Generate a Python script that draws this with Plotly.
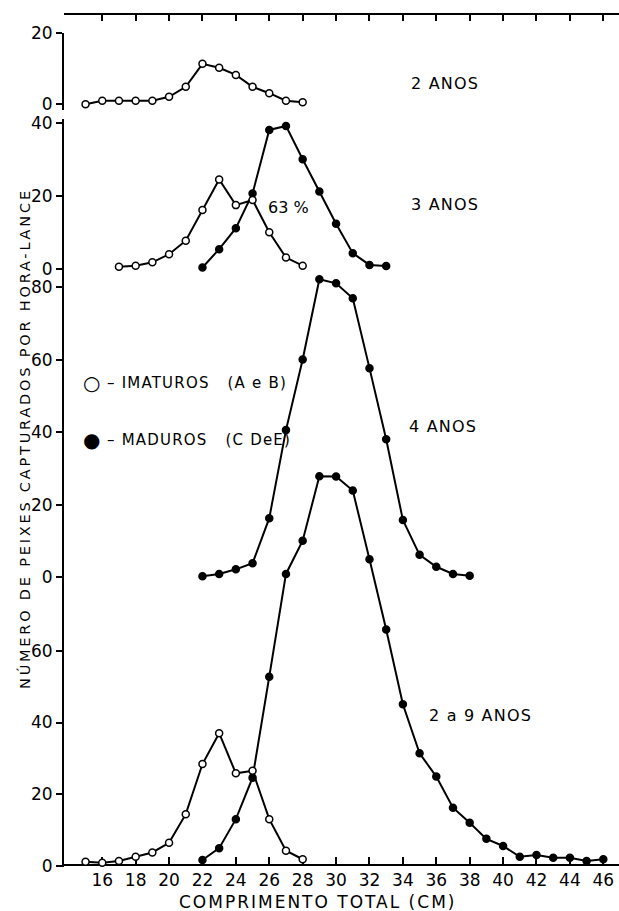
import plotly.graph_objects as go

W, H = 619, 911

# ---------------- data ----------------
# Panel 1: 2 ANOS (imaturos only)
p1_imat_x = list(range(15, 29))
p1_imat_y = [0, 1.0, 1.0, 1.0, 1.0, 2.1, 4.9, 11.3, 10.2, 8.2, 4.9, 3.1, 1.0, 0.6]

# Panel 2: 3 ANOS
p2_imat_x = list(range(17, 29))
p2_imat_y = [0.7, 1.0, 1.9, 4.1, 7.8, 16.2, 24.5, 17.5, 18.9, 10.1, 3.2, 1.0]
p2_mad_x = list(range(22, 34))
p2_mad_y = [0.5, 5.5, 11.2, 20.7, 38.0, 39.1, 30.0, 21.2, 12.4, 4.4, 1.2, 0.9]

# Panel 3: 4 ANOS (maduros only)
p3_mad_x = list(range(22, 39))
p3_mad_y = [0.3, 0.9, 2.2, 3.9, 16.3, 40.6, 60.1, 82.2, 81.1, 77.0, 57.7,
            38.1, 15.8, 6.2, 2.9, 0.9, 0.4]

# Panel 4: 2 a 9 ANOS
p4_imat_x = list(range(15, 29))
p4_imat_y = [1.1, 0.8, 1.3, 2.5, 3.7, 6.4, 14.4, 28.4, 37.0, 25.8, 26.5, 13.0, 4.2, 1.8]
p4_mad_x = list(range(22, 47))
p4_mad_y = [1.6, 4.9, 13.0, 24.6, 52.8, 81.5, 90.8, 108.8, 108.7, 104.8, 85.6,
            66.0, 45.1, 31.4, 24.9, 16.2, 12.0, 7.5, 5.5, 2.5, 3.0, 2.2, 2.2, 1.3, 1.8]

x_ticks = list(range(16, 47, 2))
p1_ticks = [0, 20]
p2_ticks = [0, 20, 40]
p3_ticks = [0, 20, 40, 60, 80]
p4_ticks = [0, 20, 40, 60]

panel_labels = ["2 ANOS", "3 ANOS", "4 ANOS", "2 a 9 ANOS"]

# ---------------- layout helpers ----------------
def px(xp):
    return xp / W

def py(yp):
    return 1 - yp / H

def ydomain(zero_pix, scale, r0, r1):
    bottom = zero_pix - r0 * scale
    top = zero_pix - r1 * scale
    return [py(bottom), py(top)]

FONT = "DejaVu Sans"
BLACK = "black"

fig = go.Figure()

def line_trace(x, y, yaxis, filled):
    marker = dict(size=7, color=BLACK if filled else "white",
                  line=dict(color=BLACK, width=1.5), symbol="circle")
    return go.Scatter(x=x, y=y, xaxis="x", yaxis=yaxis, mode="lines+markers",
                      line=dict(color=BLACK, width=2), marker=marker,
                      showlegend=False, cliponaxis=False, hoverinfo="x+y")

fig.add_trace(line_trace(p1_imat_x, p1_imat_y, "y", False))
fig.add_trace(line_trace(p2_mad_x, p2_mad_y, "y2", True))
fig.add_trace(line_trace(p2_imat_x, p2_imat_y, "y2", False))
fig.add_trace(line_trace(p3_mad_x, p3_mad_y, "y3", True))
fig.add_trace(line_trace(p4_mad_x, p4_mad_y, "y4", True))
fig.add_trace(line_trace(p4_imat_x, p4_imat_y, "y4", False))
# invisible trace to carry the top axis
fig.add_trace(go.Scatter(x=[None], y=[None], xaxis="x2", yaxis="y",
                         showlegend=False, hoverinfo="skip"))

xrange_ = [13.71, 46.94]

yax_common = dict(showgrid=False, zeroline=False, showline=True, linecolor=BLACK,
                  linewidth=2, ticks="outside", ticklen=6, tickwidth=2,
                  tickcolor=BLACK, anchor="x", automargin=False,
                  tickfont=dict(family=FONT, size=17, color=BLACK),
                  tickmode="array", fixedrange=True)

fig.update_layout(
    width=W, height=H,
    margin=dict(l=0, r=0, t=0, b=0),
    paper_bgcolor="white", plot_bgcolor="rgba(0,0,0,0)",
    xaxis=dict(domain=[px(64), 1], range=xrange_, anchor="free", position=py(865),
               showgrid=False, zeroline=False, showline=True, linecolor=BLACK,
               linewidth=2, ticks="inside", ticklen=7, tickwidth=2, tickcolor=BLACK,
               tickmode="array", tickvals=x_ticks, automargin=False,
               tickfont=dict(family=FONT, size=17, color=BLACK)),
    xaxis2=dict(domain=[px(64), 1], range=xrange_, anchor="free", position=py(13.5),
                overlaying="x", side="top", showgrid=False, zeroline=False,
                showline=True, linecolor=BLACK, linewidth=2, ticks="inside",
                ticklen=6, tickwidth=2, tickcolor=BLACK, tickmode="array",
                tickvals=x_ticks, showticklabels=False, automargin=False),
    yaxis=dict(domain=ydomain(104.3, 3.58, -1.5, 20), range=[-1.5, 20],
               tickvals=p1_ticks, **yax_common),
    yaxis2=dict(domain=ydomain(269.3, 3.667, -1.5, 41), range=[-1.5, 41],
                tickvals=p2_ticks, **yax_common),
    yaxis3=dict(domain=ydomain(577.3, 3.625, -1.5, 84), range=[-1.5, 84],
                tickvals=p3_ticks, **yax_common),
    yaxis4=dict(domain=ydomain(865.7, 3.58, -0.3, 112), range=[-0.3, 112],
                tickvals=p4_ticks, **yax_common),
    showlegend=False,
)

ann = []
def label(text, xp, yp, size=16, xanchor="left", angle=0, spacing=None):
    if spacing is not None:
        text = '<span style="letter-spacing:%spx">%s</span>' % (spacing, text)
    ann.append(dict(text=text, x=px(xp), y=py(yp), xref="paper", yref="paper",
                    xanchor=xanchor, yanchor="middle", showarrow=False,
                    textangle=angle, font=dict(family=FONT, size=size, color=BLACK)))

label(panel_labels[0], 409, 83, spacing=1.2)
label(panel_labels[1], 409, 205, spacing=1.2)
label(panel_labels[2], 407, 426, spacing=1.2)
label(panel_labels[3], 427, 715, spacing=1.2)
label("63 %", 266, 207)

# legend (drawn as text)
label("○", 91.5, 383, size=20, xanchor="center")
label("●", 91.5, 440, size=20, xanchor="center")
label("– IMATUROS\u00a0\u00a0\u00a0(A e B)", 105, 383, size=15, spacing=1.2)
label("– MADUROS\u00a0\u00a0\u00a0(C DeE)", 105, 440, size=15, spacing=1.2)

# axis titles
label("COMPRIMENTO TOTAL (CM)", 317, 902, size=17, xanchor="center", spacing=2.0)
label("NÚMERO DE PEIXES CAPTURADOS POR HORA-LANCE", 24, 439, size=14.5,
      xanchor="center", angle=-90, spacing=2.8)

fig.update_layout(annotations=ann)

fig.write_html(
    "out.html",
    config={"displayModeBar": False},
    post_script="document.body.style.margin='0';document.body.style.overflow='hidden';",
)
